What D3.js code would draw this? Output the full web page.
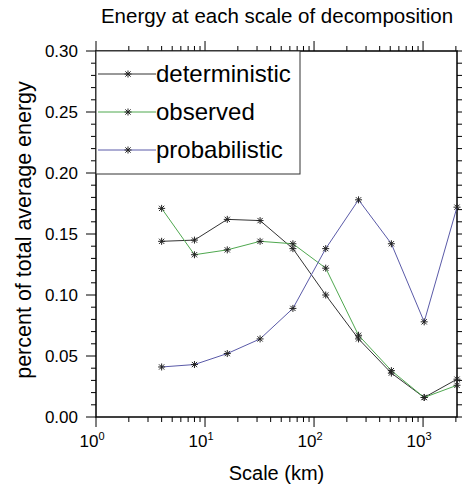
<!DOCTYPE html>
<html>
<head>
<meta charset="utf-8">
<script src="https://d3js.org/d3.v7.min.js"></script>
<style>
  body { margin: 0; background: #fff; }
  svg { display: block; font-family: "Liberation Sans", Arial, sans-serif; }
</style>
</head>
<body>
<div id="chart"></div>
<script>
// scales of decomposition (km)
var scales = [4, 8, 16, 32, 64, 128, 256, 512, 1024, 2048];
var deterministic = [0.144, 0.145, 0.162, 0.161, 0.138, 0.100, 0.064, 0.036, 0.016, 0.031];
var observed = [0.171, 0.133, 0.137, 0.144, 0.142, 0.122, 0.067, 0.038, 0.016, 0.026];
var probabilistic = [0.041, 0.043, 0.052, 0.064, 0.089, 0.138, 0.178, 0.142, 0.078, 0.172];
var seriesNames = ['deterministic', 'observed', 'probabilistic'];
var seriesColors = ['#333333', '#4fa84f', '#5a5aa8'];
var yTicks = [0.00, 0.05, 0.10, 0.15, 0.20, 0.25, 0.30];
var xDecades = [0, 1, 2, 3];

var W = 462, H = 489;
var pLeft = 96, pRight = 457, pTop = 51, pBottom = 417;

var svg = d3.select('#chart').append('svg')
    .attr('width', W).attr('height', H);

var x = d3.scaleLog().domain([1, 2048]).range([pLeft, pRight]);
var y = d3.scaleLinear().domain([0, 0.3]).range([pBottom, pTop]);

// title and axis labels
svg.append('text')
    .attr('x', 277).attr('y', 23)
    .attr('text-anchor', 'middle')
    .attr('font-size', 20.5)
    .text('Energy at each scale of decomposition');

svg.append('text')
    .attr('transform', 'translate(31,230) rotate(-90)')
    .attr('text-anchor', 'middle')
    .attr('font-size', 21.5)
    .text('percent of total average energy');

svg.append('text')
    .attr('x', (pLeft + pRight) / 2).attr('y', 480)
    .attr('text-anchor', 'middle')
    .attr('font-size', 20)
    .text('Scale (km)');

// minor tick values
var xMinor = [];
[1, 10, 100, 1000].forEach(function (d) {
    for (var k = 2; k <= 9; k++) {
        if (d * k <= 2048) xMinor.push(d * k);
    }
});
var yMinor = d3.range(0, 31).map(function (i) { return i / 100; })
    .filter(function (v, i) { return i % 5 !== 0; });

var axes = svg.append('g').attr('stroke', '#000').attr('stroke-width', 1);

// left and right ticks
[[pLeft, -1], [pRight, 1]].forEach(function (side) {
    axes.append('g').selectAll('line').data(yTicks).enter().append('line')
        .attr('x1', side[0]).attr('x2', side[0] + side[1] * 10)
        .attr('y1', function (d) { return y(d); }).attr('y2', function (d) { return y(d); });
    axes.append('g').selectAll('line').data(yMinor).enter().append('line')
        .attr('x1', side[0]).attr('x2', side[0] + side[1] * 5)
        .attr('y1', function (d) { return y(d); }).attr('y2', function (d) { return y(d); });
});

// bottom and top ticks
var xMajor = xDecades.map(function (p) { return Math.pow(10, p); });
[[pBottom, 1], [pTop, -1]].forEach(function (side) {
    axes.append('g').selectAll('line').data(xMajor).enter().append('line')
        .attr('x1', function (d) { return x(d); }).attr('x2', function (d) { return x(d); })
        .attr('y1', side[0]).attr('y2', side[0] + side[1] * 10);
    axes.append('g').selectAll('line').data(xMinor).enter().append('line')
        .attr('x1', function (d) { return x(d); }).attr('x2', function (d) { return x(d); })
        .attr('y1', side[0]).attr('y2', side[0] + side[1] * 5);
});

// frame
svg.append('rect')
    .attr('x', pLeft).attr('y', pTop)
    .attr('width', pRight - pLeft).attr('height', pBottom - pTop)
    .attr('fill', 'none').attr('stroke', '#000').attr('stroke-width', 1.5);

// tick labels
svg.selectAll('.ylab').data(yTicks).enter().append('text')
    .attr('x', pLeft - 18).attr('y', function (d) { return y(d) + 6; })
    .attr('text-anchor', 'end')
    .attr('font-size', 17)
    .text(function (d) { return d.toFixed(2); });

var xl = svg.selectAll('.xlab').data(xDecades).enter().append('text')
    .attr('x', function (d) { return x(Math.pow(10, d)) - 4; })
    .attr('y', 447)
    .attr('text-anchor', 'middle')
    .attr('font-size', 17);
xl.append('tspan').text('10');
xl.append('tspan').attr('dy', -7).attr('font-size', 11)
    .text(function (d) { return d; });

// series
var data = [deterministic, observed, probabilistic];
var line = d3.line()
    .x(function (d, i) { return x(scales[i]); })
    .y(function (d) { return y(d); });

function star(g, cx, cy) {
    var r = 3.5;
    var s = g.append('g').attr('stroke', '#222').attr('stroke-width', 1);
    s.append('line').attr('x1', cx - r).attr('x2', cx + r).attr('y1', cy).attr('y2', cy);
    s.append('line').attr('x1', cx).attr('x2', cx).attr('y1', cy - r).attr('y2', cy + r);
    s.append('line').attr('x1', cx - r * 0.75).attr('x2', cx + r * 0.75).attr('y1', cy - r * 0.75).attr('y2', cy + r * 0.75);
    s.append('line').attr('x1', cx - r * 0.75).attr('x2', cx + r * 0.75).attr('y1', cy + r * 0.75).attr('y2', cy - r * 0.75);
}

var plot = svg.append('g');
data.forEach(function (vals, k) {
    plot.append('path')
        .attr('d', line(vals))
        .attr('fill', 'none')
        .attr('stroke', seriesColors[k])
        .attr('stroke-width', 1);
    vals.forEach(function (v, i) {
        star(plot, x(scales[i]), y(v));
    });
});

// legend
var lg = svg.append('g');
lg.append('rect')
    .attr('x', pLeft).attr('y', pTop)
    .attr('width', 204).attr('height', 123)
    .attr('fill', '#fff').attr('stroke', '#333').attr('stroke-width', 1);
seriesNames.forEach(function (name, k) {
    var ly = 74 + k * 38;
    lg.append('line')
        .attr('x1', pLeft + 2).attr('x2', 156)
        .attr('y1', ly).attr('y2', ly)
        .attr('stroke', seriesColors[k]).attr('stroke-width', 1);
    star(lg, 128, ly);
    lg.append('text')
        .attr('x', 156).attr('y', ly + 8)
        .attr('font-size', 24)
        .text(name);
});
</script>
</body>
</html>
